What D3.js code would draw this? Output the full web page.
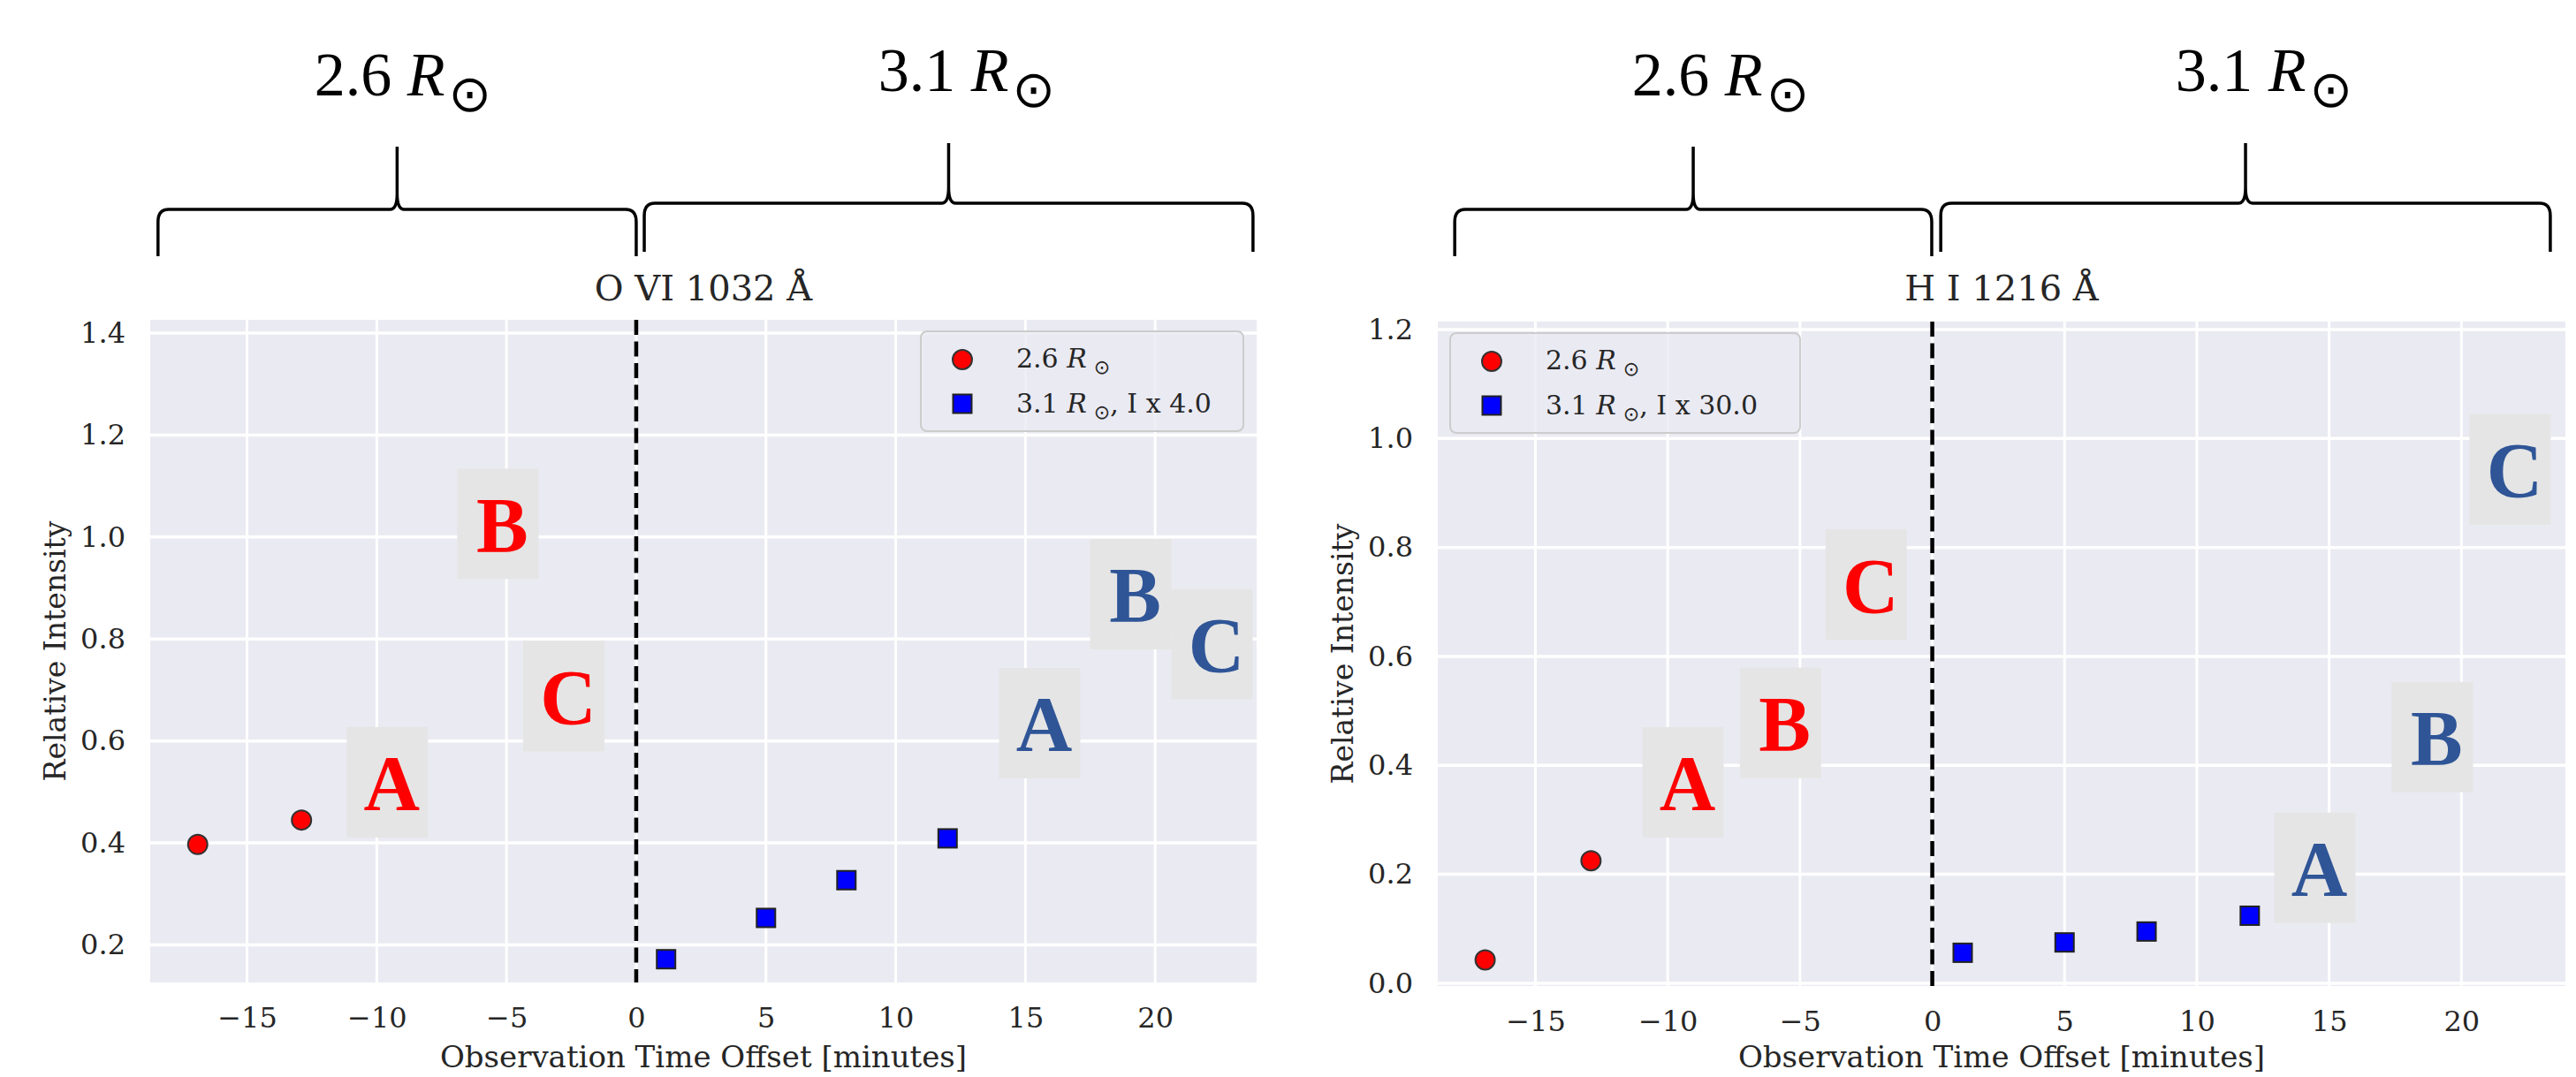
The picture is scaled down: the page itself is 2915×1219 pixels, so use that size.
<!DOCTYPE html>
<html>
<head>
<meta charset="utf-8">
<script src="https://cdn.jsdelivr.net/npm/d3@7"></script>
<style>
  body { margin: 0; background: #fff; }
  svg { display: block; }
  .times { font-family: "Liberation Serif", Tinos, "Times New Roman", Times, serif; }
</style>
</head>
<body>
<div id="chart"></div>
<script>
const width = 2915;
const height = 1219;

// data
const xTicks = [-15, -10, -5, 0, 5, 10, 15, 20];
const oviYTicks = [0.2, 0.4, 0.6, 0.8, 1.0, 1.2, 1.4];
const hiYTicks = [0.0, 0.2, 0.4, 0.6, 0.8, 1.0, 1.2];

const times26 = [-16.9, -12.9];
const times31 = [1.15, 5, 8.1, 12];

const oviVals26 = [0.397, 0.445];
const oviVals31 = [0.172, 0.253, 0.327, 0.409];
const hiVals26 = [0.043, 0.225];
const hiVals31 = [0.056, 0.075, 0.095, 0.124];

const letters = ["A", "B", "C"];
const oviRedX = [-9.59, -5.33, -2.79];
const oviRedY = [0.519, 1.026, 0.688];
const oviBlueX = [15.55, 19.06, 22.19];
const oviBlueY = [0.635, 0.888, 0.79];
const hiRedX = [-9.42, -5.74, -2.5];
const hiRedY = [0.369, 0.478, 0.732];
const hiBlueX = [14.46, 18.9, 21.84];
const hiBlueY = [0.212, 0.452, 0.943];

const regionNames = ["2.6", "3.1"];

const panels = [
  {
    title: "O VI 1032 Å",
    box: { left: 170, right: 1422, top: 362, bottom: 1112 },
    xDomain: [-18.73, 23.91],
    yDomain: [0.1264, 1.426],
    yTicks: oviYTicks,
    v26: oviVals26, v31: oviVals31,
    red: [oviRedX, oviRedY], blue: [oviBlueX, oviBlueY],
    factor: "4.0",
    legendRight: true,
    braces: [[-18.43, 0], [0.31, 23.77]],
    labelX: [-8.99, 12.74]
  },
  {
    title: "H I 1216 Å",
    box: { left: 1627, right: 2903, top: 364, bottom: 1116 },
    xDomain: [-18.69, 23.93],
    yDomain: [-0.005, 1.2146],
    yTicks: hiYTicks,
    v26: hiVals26, v31: hiVals31,
    red: [hiRedX, hiRedY], blue: [hiBlueX, hiBlueY],
    factor: "30.0",
    legendRight: false,
    braces: [[-18.05, -0.02], [0.32, 23.36]],
    labelX: [-8.0, 12.54]
  }
];

const braceGeom = [
  { flat: 237, peak: 166, bottom: 290, base: 108 },
  { flat: 230, peak: 162, bottom: 285, base: 103 }
];

const serif = "DejaVu Serif, serif";
const ink = "#262626";
const blueInk = "#2f5597";

const svg = d3.select("#chart").append("svg").attr("width", width).attr("height", height);
svg.append("rect").attr("width", width).attr("height", height).attr("fill", "#fff");

function bracePath(x0, x1, g) {
  const m = (x0 + x1) / 2;
  return `M${x0},${g.bottom} L${x0},${g.flat + 14} Q${x0},${g.flat} ${x0 + 12},${g.flat}` +
    ` L${m - 8},${g.flat} Q${m},${g.flat} ${m},${g.flat - 18} L${m},${g.peak}` +
    ` M${m},${g.flat - 18} Q${m},${g.flat} ${m + 8},${g.flat} L${x1 - 12},${g.flat}` +
    ` Q${x1},${g.flat} ${x1},${g.flat + 14} L${x1},${g.bottom}`;
}

panels.forEach((p) => {
  const b = p.box;
  const x = d3.scaleLinear().domain(p.xDomain).range([b.left, b.right]);
  const y = d3.scaleLinear().domain(p.yDomain).range([b.bottom, b.top]);
  const g = svg.append("g");

  // braces and region labels above the panel
  p.braces.forEach((br, i) => {
    g.append("path")
      .attr("d", bracePath(x(br[0]), x(br[1]), braceGeom[i]))
      .attr("fill", "none")
      .attr("stroke", "#000")
      .attr("stroke-width", 3.5)
      .attr("stroke-linejoin", "round");

    const t = g.append("text")
      .attr("class", "times")
      .attr("x", x(p.labelX[i]))
      .attr("y", braceGeom[i].base)
      .attr("text-anchor", "middle")
      .attr("font-size", 70)
      .attr("fill", "#000");
    t.append("tspan").text(regionNames[i] + " ");
    t.append("tspan").attr("font-style", "italic").text("R");
    t.append("tspan")
      .style("font-family", "DejaVu Sans, sans-serif")
      .attr("font-size", 58)
      .attr("dx", 4)
      .attr("dy", 18)
      .text("⊙");
  });

  // title
  g.append("text")
    .attr("x", (b.left + b.right) / 2)
    .attr("y", 340)
    .attr("text-anchor", "middle")
    .attr("font-family", serif)
    .attr("font-size", 40)
    .attr("fill", ink)
    .text(p.title);

  // background + grid
  g.append("rect")
    .attr("x", b.left).attr("y", b.top)
    .attr("width", b.right - b.left).attr("height", b.bottom - b.top)
    .attr("fill", "#eaeaf2");

  g.append("g").selectAll("line").data(xTicks).join("line")
    .attr("x1", (d) => x(d)).attr("x2", (d) => x(d))
    .attr("y1", b.top).attr("y2", b.bottom)
    .attr("stroke", "#fff").attr("stroke-width", 3);

  g.append("g").selectAll("line").data(p.yTicks).join("line")
    .attr("x1", b.left).attr("x2", b.right)
    .attr("y1", (d) => y(d)).attr("y2", (d) => y(d))
    .attr("stroke", "#fff").attr("stroke-width", 3.5);

  // axes
  const xAxis = g.append("g")
    .attr("transform", `translate(0,${b.bottom})`)
    .call(d3.axisBottom(x).tickValues(xTicks).tickSize(0).tickPadding(28));
  xAxis.select(".domain").remove();
  xAxis.selectAll("text")
    .attr("font-family", serif).attr("font-size", 32).attr("fill", ink);

  const yAxis = g.append("g")
    .attr("transform", `translate(${b.left},0)`)
    .call(d3.axisLeft(y).tickValues(p.yTicks).tickFormat(d3.format(".1f")).tickSize(0).tickPadding(28));
  yAxis.select(".domain").remove();
  yAxis.selectAll("text")
    .attr("font-family", serif).attr("font-size", 32).attr("fill", ink);

  g.append("text")
    .attr("x", (b.left + b.right) / 2)
    .attr("y", 1208)
    .attr("text-anchor", "middle")
    .attr("font-family", serif)
    .attr("font-size", 34)
    .attr("fill", ink)
    .text("Observation Time Offset [minutes]");

  const cy = (b.top + b.bottom) / 2;
  g.append("text")
    .attr("transform", `translate(${b.left - 96},${cy}) rotate(-90)`)
    .attr("text-anchor", "middle")
    .attr("font-family", serif)
    .attr("font-size", 33)
    .attr("fill", ink)
    .text("Relative Intensity");

  // dashed line at t = 0
  g.append("line")
    .attr("x1", x(0)).attr("x2", x(0))
    .attr("y1", b.top).attr("y2", b.bottom)
    .attr("stroke", "#000").attr("stroke-width", 4.5)
    .attr("stroke-dasharray", "17,7.5");

  // letter annotations
  const drawLetters = (pos, color) => {
    const lg = g.append("g").selectAll("g").data(letters).join("g")
      .attr("transform", (d, i) => `translate(${x(pos[0][i])},${y(pos[1][i])})`);
    lg.append("rect")
      .attr("x", -46).attr("y", -62.5)
      .attr("width", 92).attr("height", 125)
      .attr("fill", "#e5e5e5");
    lg.append("text")
      .attr("class", "times")
      .attr("x", 5).attr("y", 31)
      .attr("text-anchor", "middle")
      .attr("font-weight", "bold")
      .attr("font-size", 88)
      .attr("fill", color)
      .text((d) => d);
  };
  drawLetters(p.red, "#ff0000");
  drawLetters(p.blue, blueInk);

  // markers
  g.append("g").selectAll("circle").data(times26).join("circle")
    .attr("cx", (d) => x(d))
    .attr("cy", (d, i) => y(p.v26[i]))
    .attr("r", 11)
    .attr("fill", "#ff0000")
    .attr("stroke", "#333")
    .attr("stroke-width", 2);

  g.append("g").selectAll("rect").data(times31).join("rect")
    .attr("x", (d) => x(d) - 10.5)
    .attr("y", (d, i) => y(p.v31[i]) - 10.5)
    .attr("width", 21).attr("height", 21)
    .attr("fill", "#0000ff")
    .attr("stroke", "#222")
    .attr("stroke-width", 2);

  // legend
  const lw = p.legendRight ? 365 : 396;
  const lx = p.legendRight ? b.right - 15 - lw : b.left + 14;
  const ly = b.top + 13;
  const leg = g.append("g").attr("transform", `translate(${lx},${ly})`);
  leg.append("rect")
    .attr("width", lw).attr("height", 113).attr("rx", 7)
    .attr("fill", "#eaeaf2").attr("fill-opacity", 0.8)
    .attr("stroke", "#cccccc").attr("stroke-width", 2);
  leg.append("circle").attr("cx", 47).attr("cy", 32).attr("r", 11)
    .attr("fill", "#ff0000").attr("stroke", "#333").attr("stroke-width", 2);
  leg.append("rect").attr("x", 36.5).attr("y", 71.5).attr("width", 21).attr("height", 21)
    .attr("fill", "#0000ff").attr("stroke", "#222").attr("stroke-width", 2);

  regionNames.forEach((name, i) => {
    const t = leg.append("text")
      .attr("x", 108).attr("y", 41 + i * 51)
      .attr("font-family", serif).attr("font-size", 30).attr("fill", ink);
    t.append("tspan").text(name + " ");
    t.append("tspan").attr("font-style", "italic").text("R");
    t.append("tspan")
      .style("font-family", "DejaVu Sans, sans-serif")
      .attr("font-size", 22).attr("dx", 8).attr("dy", 6.5)
      .text("⊙");
    if (i === 1) {
      t.append("tspan").attr("dy", -6.5).text(", I x " + p.factor);
    }
  });
});
</script>
</body>
</html>
